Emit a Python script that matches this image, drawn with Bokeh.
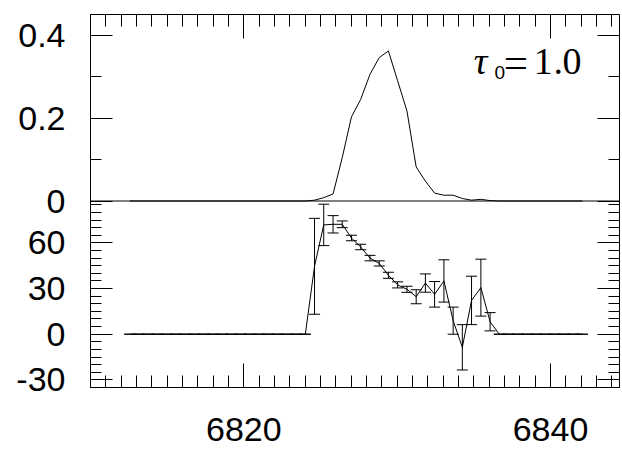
from bokeh.plotting import figure
from bokeh.models import (Range1d, LinearAxis, FixedTicker, Whisker, ColumnDataSource,
                          TeeHead, Label, Span, CustomJSTickFormatter)
from bokeh.embed import file_html
from bokeh.resources import INLINE

# Wavelength grid (Angstrom)
wavelength = [6812.56, 6813.16, 6813.77, 6814.37, 6814.97, 6815.57, 6816.18, 6816.78,
              6817.38, 6817.98, 6818.59, 6819.19, 6819.79, 6820.39, 6821.00, 6821.60,
              6822.20, 6822.80, 6823.41, 6824.01, 6824.61, 6825.21, 6825.82, 6826.42,
              6827.02, 6827.62, 6828.23, 6828.83, 6829.43, 6830.03, 6830.64, 6831.24,
              6831.84, 6832.44, 6833.05, 6833.65, 6834.25, 6834.85, 6835.46, 6836.06,
              6836.66, 6837.26, 6837.87, 6838.47, 6839.07, 6839.67, 6840.28, 6840.88,
              6841.48, 6842.08]

# Upper panel: line profile
profile = [0, 0, 0, 0, 0, 0, 0, 0, 0, 0,
           0, 0, 0, 0, 0, 0, 0, 0, 0, 0,
           0.002, 0.008, 0.017, 0.105, 0.203, 0.245, 0.306, 0.346, 0.362, 0.290,
           0.217, 0.082, 0.048, 0.019, 0.014, 0.014, 0.006, 0.002, 0.004, 0.001,
           0, 0, 0, 0, 0, 0, 0, 0, 0, 0]

# Lower panel: measured value and its 1-sigma error
measure = [0, 0, 0, 0, 0, 0, 0, 0, 0, 0,
           0, 0, 0, 0, 0, 0, 0, 0, 0, 0,
           44.6, 71.8, 72.2, 72.2, 63.2, 57.3, 50.0, 46.5, 38.7, 32.4,
           29.5, 24.6, 33.6, 26.2, 35.0, 8.9, -8.6, 22.2, 30.6, 8.2,
           0, 0, 0, 0, 0, 0, 0, 0, 0, 0]
measure_err = [0, 0, 0, 0, 0, 0, 0, 0, 0, 0,
               0, 0, 0, 0, 0, 0, 0, 0, 0, 0,
               31.5, 13.6, 5.7, 2.2, 1.8, 1.8, 1.8, 1.7, 2.0, 2.0,
               2.0, 4.6, 6.0, 8.4, 13.9, 8.9, 14.9, 15.9, 18.7, 6.0,
               0, 0, 0, 0, 0, 0, 0, 0, 0, 0]

# Tick positions and labels
x_ticks = [6820, 6840]
x_tick_labels = ["6820", "6840"]
x_minor = [6810, 6811, 6812, 6813, 6814, 6815, 6816, 6817, 6818, 6819, 6820, 6821,
           6822, 6823, 6824, 6825, 6826, 6827, 6828, 6829, 6830, 6831, 6832, 6833,
           6834, 6835, 6836, 6837, 6838, 6839, 6840, 6841, 6842, 6843, 6844]
top_ticks = [0, 0.2, 0.4]
top_tick_labels = ["0", "0.2", "0.4"]
top_minor = [0.1, 0.3]
bot_ticks = [-30, 0, 30, 60]
bot_tick_labels = ["-30", "0", "30", "60"]
bot_minor = [-35, -25, -20, -15, -10, -5, 5, 10, 15, 20, 25, 35, 40, 45, 50, 55,
             65, 70, 75, 80, 85]

SANS = "Liberation Sans"
SERIF = "Liberation Serif"

# One frame holds both panels: the lower panel uses the default y range
# (its upper half is left to the profile); the profile uses an extra range
# whose zero sits on the divider between the panels.
lower_range = Range1d(-35, 210)
profile_range = Range1d(-0.45, 0.45)

p = figure(frame_width=529, frame_height=373,
           x_range=Range1d(6810, 6844.5), y_range=lower_range,
           output_backend="svg", toolbar_location=None,
           x_axis_location=None, y_axis_location=None,
           min_border_left=90, min_border_right=3, min_border_top=14, min_border_bottom=62)
p.extra_y_ranges = {"profile": profile_range}
p.xgrid.visible = False
p.ygrid.visible = False
p.outline_line_color = "black"
p.outline_line_width = 1
p.background_fill_color = "white"
p.border_fill_color = "white"

blank = CustomJSTickFormatter(code="return '';")


def tick_axis(ticks, minor, range_name="default", major_len=22, minor_len=11, labels=None,
              standoff=0):
    ax = LinearAxis(y_range_name=range_name) if range_name != "default" else LinearAxis()
    ax.ticker = FixedTicker(ticks=ticks, minor_ticks=minor)
    ax.axis_line_color = None
    ax.major_tick_in = major_len
    ax.major_tick_out = 0
    ax.minor_tick_in = minor_len
    ax.minor_tick_out = 0
    ax.major_tick_line_color = "black"
    ax.minor_tick_line_color = "black"
    if labels is None:
        ax.formatter = blank
        ax.major_label_standoff = 0
    else:
        ax.formatter = CustomJSTickFormatter(args=dict(pos=list(ticks), txt=list(labels)), code="""
            let best = 0;
            for (let i = 0; i < pos.length; i++) {
                if (Math.abs(pos[i] - tick) < Math.abs(pos[best] - tick)) { best = i; }
            }
            return txt[best];
        """)
        ax.major_label_text_font = SANS
        ax.major_label_text_font_size = "34px"
        ax.major_label_text_color = "black"
        ax.major_label_standoff = standoff
    return ax


# frame ticks, all pointing inward (unlabelled axes first so they sit on the frame)
p.add_layout(tick_axis(top_ticks, top_minor, "profile"), "left")
p.add_layout(tick_axis(bot_ticks, bot_minor), "left")
p.add_layout(tick_axis(top_ticks, top_minor, "profile"), "right")
p.add_layout(tick_axis(bot_ticks, bot_minor), "right")
p.add_layout(tick_axis(x_ticks, x_minor, major_len=24, minor_len=12), "above")
p.add_layout(tick_axis(x_ticks, x_minor, major_len=24, minor_len=12,
                       labels=x_tick_labels, standoff=30), "below")

# y tick labels of both panels on one left axis; profile ticks are carried
# over to the lower-panel range through the two ranges' end points
scale = (lower_range.end - lower_range.start) / (profile_range.end - profile_range.start)
profile_pos = [lower_range.start + (v - profile_range.start) * scale for v in top_ticks]
p.add_layout(tick_axis(bot_ticks + profile_pos, [], major_len=0, minor_len=0,
                       labels=bot_tick_labels + top_tick_labels, standoff=25), "left")

# divider between the two panels
p.add_layout(Span(location=0, dimension="width", y_range_name="profile",
                  line_color="black", line_width=1))

# upper panel: profile
p.line(wavelength, profile, y_range_name="profile", line_color="black", line_width=1)

# lower panel: values with error bars
src = ColumnDataSource(dict(
    x=wavelength,
    y=measure,
    upper=[m + e for m, e in zip(measure, measure_err)],
    lower=[m - e for m, e in zip(measure, measure_err)],
))
p.line("x", "y", source=src, line_color="black", line_width=1)
p.add_layout(Whisker(source=src, base="x", upper="upper", lower="lower", dimension="height",
                     line_color="black", line_width=1,
                     upper_head=TeeHead(size=11, line_color="black", line_width=1),
                     lower_head=TeeHead(size=11, line_color="black", line_width=1)))

# panel annotation: tau_0 = 1.0
tau_y = 0.3366


def note(x, y, txt, font=SERIF, size="37px", style="normal"):
    p.add_layout(Label(x=x, y=y, y_range_name="profile", text=txt, text_font=font,
                       text_font_size=size, text_font_style=style,
                       text_baseline="alphabetic", text_color="black"))


note(6835.00, tau_y, "τ", size="38px", style="italic")
note(6836.35, 0.3100, "0", font=SANS, size="19px")
note(6836.95, 0.3330, "=", size="43px")
note(6838.90, tau_y, "1", size="38px")
note(6840.20, tau_y, ".", size="38px")
note(6840.79, tau_y, "0", size="38px")

open("out.html", "w").write(file_html(p, INLINE))
